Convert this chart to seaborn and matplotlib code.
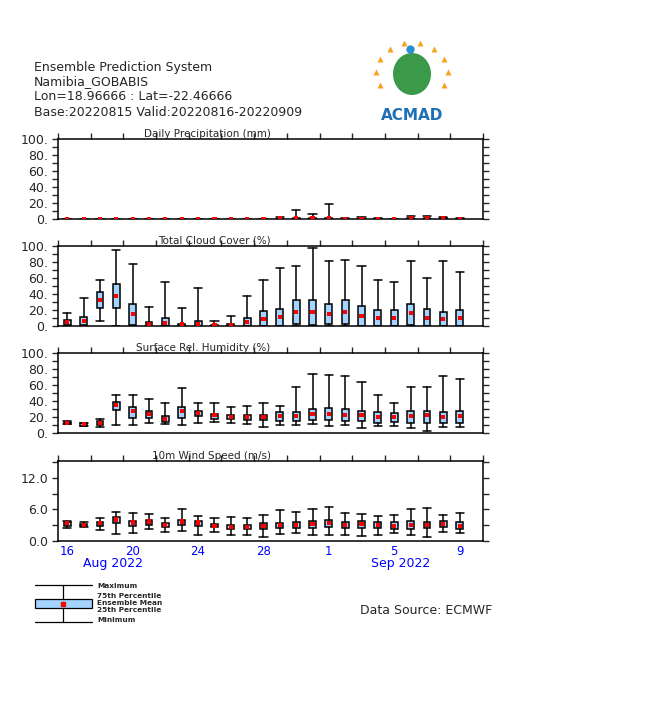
import numpy as np
import pandas as pd
import matplotlib
matplotlib.use('Agg')
import matplotlib.pyplot as plt
import matplotlib.patches as mpatches
import seaborn as sns

sns.set_style('white')
plt.rcParams['font.family'] = ['DejaVu Sans']

# days of the forecast (16 Aug .. 9 Sep 2022)
day_labels = ['16', '20', '24', '28', '1', '5', '9']
day_label_idx = [0, 4, 8, 12, 16, 20, 24]
month_labels = ['Aug 2022', 'Sep 2022']
n_days = 25

# Daily Precipitation (mm)
pr_min = [0] * 25
pr_q25 = [0] * 25
pr_q75 = [0] * 13 + [0.5, 1, 1, 1.5, 0.5, 0.5, 0.5, 0.3, 1, 1, 1.5, 0.5]
pr_max = [0.3] * 13 + [2, 11, 6, 19, 1, 2, 1, 0.5, 4, 4, 2, 1]
pr_mean = [0.3] * 13 + [0.6, 1.2, 0.8, 1.5, 0.4, 0.5, 0.4, 0.3, 0.8, 0.8, 0.7, 0.4]

# Total Cloud Cover (%)
tc_min = [0, 0, 6, 0, 0, 0, 0, 0, 0, 0, 0, 0, 0,
          0, 0, 0, 0, 0, 0, 0, 0, 0, 0, 0, 0]
tc_q25 = [1, 1, 22, 22, 1, 0, 0, 0, 0, 0, 0, 0, 0,
          0, 2, 1, 2, 2, 0, 0, 0, 1, 0, 0, 0]
tc_q75 = [8, 11, 42, 52, 28, 5, 10, 3, 6, 1, 2, 10, 19,
          21, 32, 32, 27, 33, 25, 20, 20, 28, 21, 18, 20]
tc_max = [16, 35, 58, 95, 77, 24, 55, 22, 48, 6, 13, 37, 58,
          72, 75, 97, 81, 82, 75, 58, 55, 81, 60, 81, 67]
tc_mean = [5, 6, 33, 38, 15, 2, 4, 2, 2, 1, 1, 5, 9,
           11, 18, 18, 15, 18, 12, 10, 10, 16, 10, 9, 10]

# Surface Rel. Humidity (%)
rh_min = [11, 9, 8, 10, 10, 13, 11, 10, 13, 14, 12, 11, 8,
          10, 10, 11, 9, 10, 6, 9, 9, 6, 2, 7, 7]
rh_q25 = [11, 9, 10, 29, 19, 19, 14, 19, 21, 18, 17, 16, 16,
          15, 15, 16, 16, 15, 15, 13, 14, 13, 13, 12, 13]
rh_q75 = [14, 12, 15, 39, 32, 27, 21, 33, 28, 24, 22, 22, 23,
          26, 26, 30, 31, 30, 28, 26, 25, 28, 28, 26, 27]
rh_max = [15, 12, 18, 48, 48, 42, 38, 56, 38, 37, 32, 34, 38,
          34, 57, 74, 73, 71, 64, 47, 38, 57, 57, 71, 67]
rh_mean = [13, 11, 13, 35, 27, 24, 18, 27, 25, 22, 20, 20, 20,
           21, 21, 24, 24, 23, 22, 20, 20, 21, 22, 20, 21]

# 10m Wind Speed (m/s)
ws_min = [2.5, 2.6, 2.1, 1.4, 1.5, 2.3, 1.8, 1.9, 1.2, 1.7, 1.2, 1.2, 0.8,
          1.3, 1.5, 1.2, 1.2, 1.2, 1.0, 1.2, 1.5, 1.2, 0.8, 1.7, 1.5]
ws_q25 = [2.9, 2.8, 2.8, 3.5, 2.9, 3.1, 2.7, 3.1, 2.9, 2.6, 2.2, 2.2, 2.2,
          2.5, 2.4, 2.5, 2.7, 2.4, 2.5, 2.5, 2.3, 2.3, 2.5, 2.7, 2.3]
ws_q75 = [3.6, 3.3, 3.7, 4.5, 3.8, 4.0, 3.4, 4.0, 3.8, 3.3, 3.1, 3.1, 3.4,
          3.5, 3.6, 3.8, 4.0, 3.6, 3.8, 3.6, 3.6, 3.8, 3.6, 3.8, 3.6]
ws_max = [3.8, 3.6, 4.3, 5.6, 5.4, 5.2, 4.3, 6.0, 4.8, 4.3, 4.5, 4.3, 5.0,
          5.8, 5.6, 6.0, 6.5, 5.4, 5.2, 4.7, 5.0, 6.0, 6.2, 5.0, 5.4]
ws_mean = [3.4, 3.1, 3.4, 4.1, 3.5, 3.7, 3.1, 3.7, 3.5, 2.9, 2.7, 2.7, 2.9,
           3.1, 3.0, 3.2, 3.4, 3.1, 3.3, 3.1, 2.9, 3.1, 3.1, 3.3, 2.9]

panels = [
    ('Daily Precipitation (mm)', pr_min, pr_q25, pr_q75, pr_max, pr_mean),
    ('Total Cloud Cover (%)', tc_min, tc_q25, tc_q75, tc_max, tc_mean),
    ('Surface Rel. Humidity (%)', rh_min, rh_q25, rh_q75, rh_max, rh_mean),
    ('10m Wind Speed (m/s)', ws_min, ws_q25, ws_q75, ws_max, ws_mean),
]

box_color = '#a3d3ff'
W, H = 651, 716
fig = plt.figure(figsize=(W / 100, H / 100), dpi=100)

# header
header = ['Ensemble Prediction System', 'Namibia_GOBABIS',
          'Lon=18.96666 : Lat=-22.46666', 'Base:20220815 Valid:20220816-20220909']
for i, line in enumerate(header):
    fig.text(34 / W, 1 - (67 + 15 * i) / H, line, fontsize=9, va='center')

tops = [139, 246, 353, 461]
days = np.arange(n_days)
for k, (title, vmin, q25, q75, vmax, vmean) in enumerate(panels):
    ax = fig.add_axes([58 / W, 1 - (tops[k] + 80) / H, 425 / W, 80 / H])
    stats = [dict(whislo=vmin[i], q1=q25[i], med=q25[i], q3=q75[i], whishi=vmax[i])
             for i in range(n_days)]
    ax.bxp(stats, positions=days, widths=0.42, showfliers=False, patch_artist=True,
           capwidths=0.5,
           boxprops=dict(facecolor=box_color, edgecolor='black', linewidth=1.1),
           whiskerprops=dict(color='black', linewidth=1.1),
           capprops=dict(color='black', linewidth=1.1),
           medianprops=dict(visible=False), manage_ticks=False)
    df = pd.DataFrame({'day': days, 'mean': vmean})
    sns.scatterplot(data=df, x='day', y='mean', ax=ax, marker='s', s=9,
                    color='red', edgecolor='none', linewidth=0, zorder=5)
    ax.set_xlim(-0.57, 25.43)
    ax.set_xticks(np.arange(-0.57, 25.5, 2))
    ax.tick_params(axis='x', top=True, bottom=False, labelbottom=False,
                   direction='out', length=4, width=1)
    if k < 3:
        ax.set_ylim(0, 100)
        ax.set_yticks(np.arange(0, 101, 20))
        ax.set_yticks(np.arange(0, 101, 10), minor=True)
        ax.set_yticklabels(['%d.' % v for v in range(0, 101, 20)])
    else:
        ax.set_ylim(0, 15.2)
        ax.set_yticks([0, 6, 12])
        ax.set_yticks([0, 3, 6, 9, 12, 15], minor=True)
        ax.set_yticklabels(['0.0', '6.0', '12.0'])
    ax.tick_params(axis='y', which='both', left=True, right=True, direction='out',
                   length=4, width=1, labelsize=9, pad=3)
    for s in ax.spines.values():
        s.set_linewidth(1.1)
        s.set_color('black')
    ax.set_xlabel('')
    ax.set_ylabel('')
    ax.text(0.5, 1.005, title, transform=ax.transAxes, ha='right', va='bottom',
            fontsize=7.5)

    if k == 3:
        sec = ax.secondary_xaxis('bottom')
        sec.set_xticks(day_label_idx, day_labels)
        sec.tick_params(length=0, colors='blue', labelsize=8.5, pad=3)
        sec.spines['bottom'].set_visible(False)
        for lab, xm in zip(month_labels, [2.8, 20.4]):
            ax.text(xm, -0.28, lab, transform=ax.get_xaxis_transform(),
                    ha='center', va='center', color='blue', fontsize=9)

# legend key
lg = fig.add_axes([0, 0, 1, 1])
lg.set_xlim(0, W)
lg.set_ylim(H, 0)
lg.axis('off')
lg.plot([35, 92], [585, 585], color='black', lw=0.9)
lg.plot([35, 92], [622, 622], color='black', lw=0.9)
lg.plot([63, 63], [585, 599], color='black', lw=0.9)
lg.plot([63, 63], [608, 622], color='black', lw=0.9)
lg.add_patch(mpatches.Rectangle((35, 599), 57, 9, facecolor=box_color,
                                edgecolor='black', lw=0.9))
lg.plot([63], [604], marker='s', color='red', ms=2.5)
for txt, yy in zip(['Maximum', '75th Percentile', 'Ensemble Mean', '25th Percentile', 'Minimum'],
                   [586, 596, 603, 610, 620]):
    lg.text(97, yy, txt, fontsize=5.3, fontweight='bold', va='center')
lg.text(360, 610, 'Data Source: ECMWF', fontsize=9, va='center')

# simple logo
cx, cy = 412, 72
for a in np.linspace(0, 2 * np.pi, 14, endpoint=False):
    if np.sin(a) < -0.6:
        continue
    lg.plot(cx + 36 * np.cos(a), cy - 30 * np.sin(a), marker='^', color='#f7a21b',
            ms=4, mec='none')
lg.add_patch(mpatches.Ellipse((cx, cy + 2), 38, 42, facecolor='#3a9a4a', edgecolor='none'))
lg.plot(cx - 2, 49, marker='o', color='#2a8fd0', ms=6, mec='none')
lg.text(cx, 116, 'ACMAD', fontsize=11, fontweight='bold', color='#1f6fb5',
        ha='center', va='center')

fig.savefig('out.png', dpi=100)
